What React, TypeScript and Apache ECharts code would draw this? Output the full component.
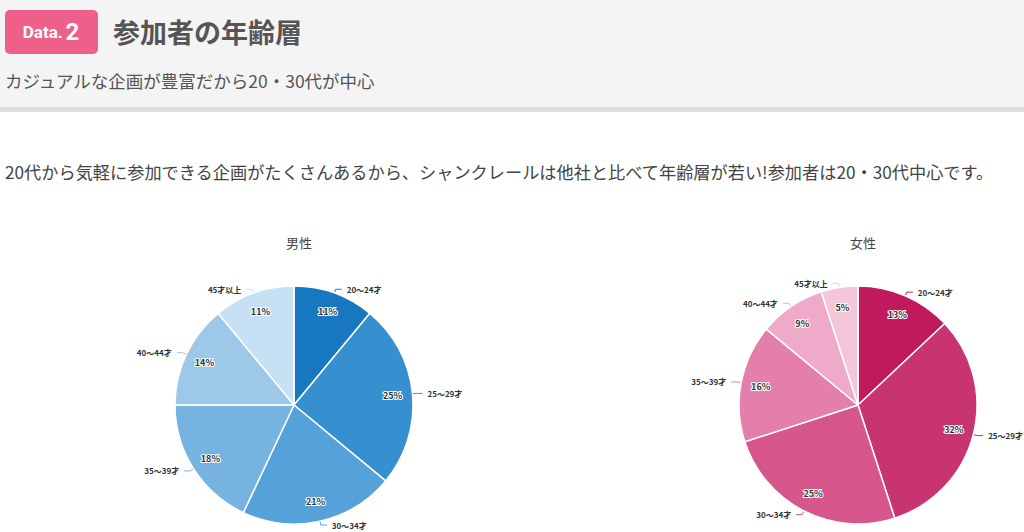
import React, { useEffect, useRef } from "react";
import * as echarts from "echarts";

const categories = ["20〜24才", "25〜29才", "30〜34才", "35〜39才", "40〜44才", "45才以上"];
const maleValues = [11, 25, 21, 18, 14, 11];
const femaleValues = [13, 32, 25, 16, 9, 5];
const maleColors = ["#1777bf", "#3690d0", "#55a2da", "#76b3e0", "#9dc8e8", "#c6e0f4"];
const femaleColors = ["#c0195c", "#c83472", "#d7578d", "#e47eab", "#eeaac8", "#f3c6da"];
const titles = ["男性", "女性"];
const headline = "参加者の年齢層";
const subline = "カジュアルな企画が豊富だから20・30代が中心";
const bodyText = "20代から気軽に参加できる企画がたくさんあるから、シャンクレールは他社と比べて年齢層が若い!参加者は20・30代中心です。";

const FONT = "'Noto Sans CJK JP', 'Noto Sans', sans-serif";

function makePies(values: number[], colors: string[], cx: number) {
  const data = categories.map((n, i) => ({ name: n, value: values[i], itemStyle: { color: colors[i] } }));
  return [
    {
      type: "pie",
      center: [cx, 405],
      radius: [0, 119],
      startAngle: 90,
      clockwise: true,
      silent: true,
      itemStyle: { borderColor: "#ffffff", borderWidth: 1.5 },
      label: {
        show: true,
        position: "outside",
        formatter: "{b}",
        color: "#333",
        fontSize: 8,
        fontWeight: "bold",
        fontFamily: FONT,
        overflow: "none",
      },
      labelLine: { show: true, length: 4, length2: 6, lineStyle: { width: 1 } },
      emphasis: { disabled: true },
      data,
    },
    {
      type: "pie",
      center: [cx, 405],
      radius: [73, 119],
      startAngle: 90,
      clockwise: true,
      silent: true,
      z: 5,
      itemStyle: { color: "transparent", borderWidth: 0 },
      label: {
        show: true,
        position: "inside",
        formatter: "{c}%",
        color: "#333",
        fontSize: 9,
        fontWeight: "bold",
        fontFamily: FONT,
        textBorderColor: "#ffffff",
        textBorderWidth: 2,
      },
      labelLine: { show: false },
      emphasis: { disabled: true },
      data: categories.map((n, i) => ({ name: n, value: values[i], itemStyle: { color: "transparent" } })),
    },
  ];
}

export default function App() {
  const ref = useRef<HTMLDivElement>(null);
  useEffect(() => {
    if (!ref.current) return;
    const chart = echarts.init(ref.current, null, { renderer: "svg" });
    chart.setOption({
      animation: false,
      backgroundColor: "#ffffff",
      title: [
        { text: titles[0], left: 294, top: 231, textAlign: "center", textStyle: { fontSize: 13, fontWeight: "normal", color: "#444", fontFamily: FONT } },
        { text: titles[1], left: 858, top: 231, textAlign: "center", textStyle: { fontSize: 13, fontWeight: "normal", color: "#444", fontFamily: FONT } },
      ],
      graphic: [
        { type: "rect", shape: { x: 0, y: 0, width: 1024, height: 107 }, style: { fill: "#f4f4f4" }, z: -1 },
        { type: "rect", shape: { x: 0, y: 107, width: 1024, height: 5 }, style: { fill: "#dedede" }, z: -1 },
        { type: "rect", shape: { x: 5, y: 10, width: 93, height: 44, r: 5 }, style: { fill: "#ee5f8a" } },
        {
          type: "text",
          x: 51,
          y: 32,
          style: {
            text: "{a|Data.} {b|2}",
            align: "center",
            verticalAlign: "middle",
            fill: "#fff",
            fontFamily: FONT,
            rich: {
              a: { fontSize: 17, fontWeight: "bold", fill: "#fff", fontFamily: "Roboto, sans-serif" },
              b: { fontSize: 24, fontWeight: "bold", fill: "#fff", fontFamily: "Roboto, sans-serif" },
            },
          },
        },
        {
          type: "text",
          x: 113,
          y: 31,
          style: { text: headline, fontSize: 27, fontWeight: "bold", fill: "#555", fontFamily: FONT, verticalAlign: "middle" },
        },
        {
          type: "text",
          x: 5,
          y: 80,
          style: { text: subline, fontSize: 17.5, fill: "#555", fontFamily: FONT, verticalAlign: "middle" },
        },
        {
          type: "text",
          x: 5,
          y: 171,
          style: { text: bodyText, fontSize: 17.2, fill: "#444", fontFamily: FONT, verticalAlign: "middle" },
        },
      ],
      series: [...makePies(maleValues, maleColors, 294), ...makePies(femaleValues, femaleColors, 858)],
    });
    return () => chart.dispose();
  }, []);
  return <div ref={ref} style={{ position: "fixed", left: 0, top: 0, width: 1024, height: 532 }} />;
}
